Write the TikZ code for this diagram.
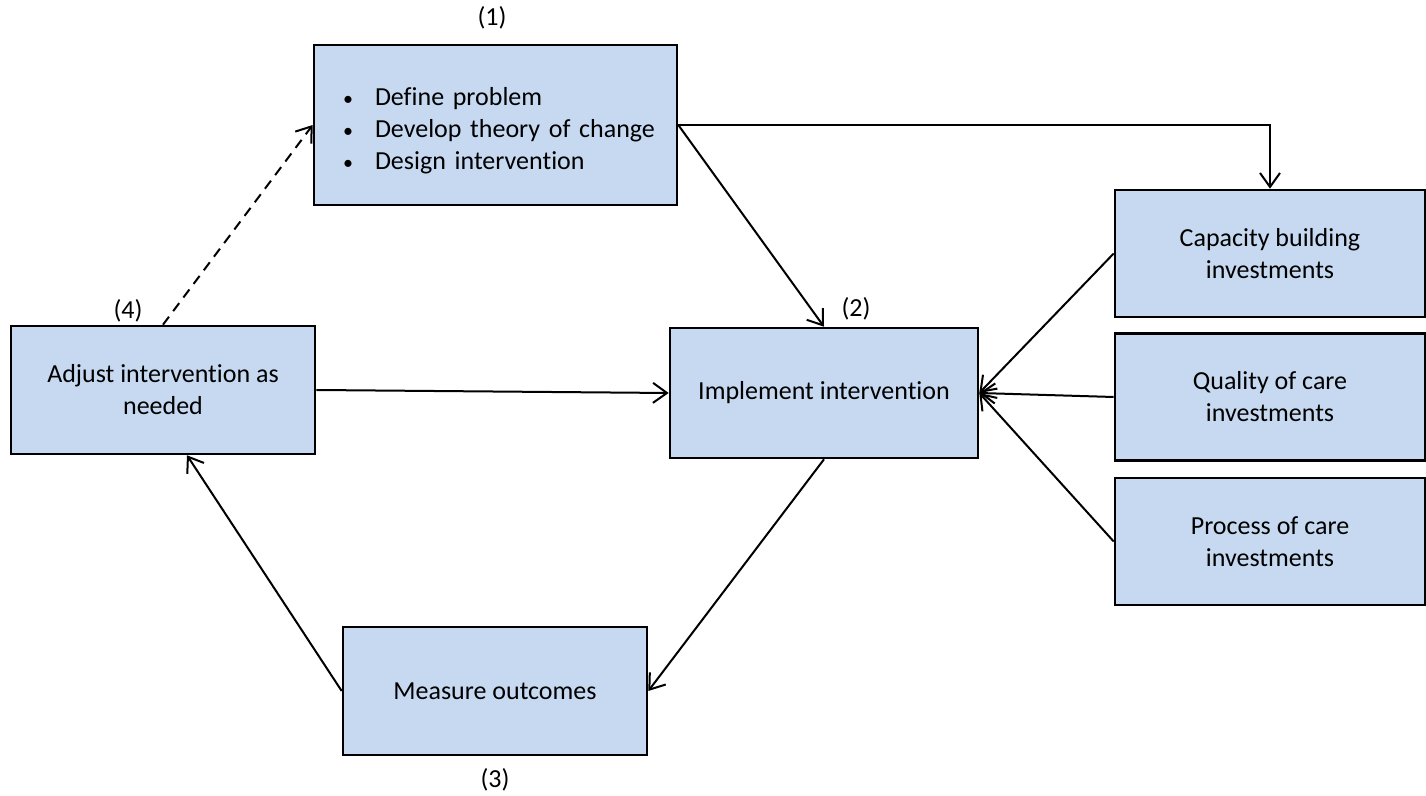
\documentclass[tikz,border=0pt]{standalone}
\usepackage{fontspec}
\setmainfont{Carlito}[Ligatures=NoCommon]
\usetikzlibrary{arrows.meta}

\begin{document}
\begin{tikzpicture}[x=0.5pt,y=-0.5pt,line width=1pt]
\definecolor{boxblue}{RGB}{198,217,241}
\providecommand{\fboxtext}{\fontsize{13}{16}\selectfont}
\providecommand{\bulletline}[1]{\makebox[152.5pt][l]{\makebox[16pt][l]{\fontsize{10}{10}\selectfont\textbullet}#1}}
\tikzset{
  stepbox/.style={draw=black,line width=1.3pt,fill=boxblue,font=\fboxtext,align=center,inner sep=0pt},
  sidebox/.style={stepbox,minimum width=155pt,minimum height=63.5pt},
  numlab/.style={inner sep=0pt,font=\fboxtext},
  conn/.style={draw=black,line width=1pt,-{Straight Barb[length=7pt,width=10pt]}},
}
\useasboundingbox (0,0) rectangle (1426,796);
% step boxes
\node[stepbox,minimum width=181.5pt,minimum height=80pt,text width=152.5pt,align=left] (define) at (495.5,125)
  {\rule{0pt}{14.5pt}\bulletline{Define problem}\\
   \bulletline{Develop theory of change}\\
   \bulletline{Design intervention}};
\node[stepbox,minimum width=154pt,minimum height=65pt] (implement) at (824,393) {Implement intervention};
\node[stepbox,minimum width=152pt,minimum height=64pt] (measure) at (495,691) {Measure outcomes};
\node[stepbox,minimum width=152pt,minimum height=64pt] (adjust) at (163,390) {Adjust intervention as\\needed};
% investments
\node[sidebox] (capacity) at (1270,253.5) {Capacity building\\investments};
\node[sidebox] (quality) at (1270,397) {Quality of care\\investments};
\node[sidebox] (process) at (1270,541.5) {Process of care\\investments};
% step numbers
\node[numlab] (lab1) at (492,18) {(1)};
\node[numlab] (lab2) at (856,309) {(2)};
\node[numlab] (lab3) at (495,780) {(3)};
\node[numlab] (lab4) at (128,311) {(4)};
% connectors
\draw[conn] (define.east) -| (capacity.north);
\draw[conn] (define.east) -- (implement.north);
\draw[conn] (implement.south) -- (measure.east);
\draw[conn] (measure.west) -- ([xshift=12pt]adjust.south);
\draw[conn] (adjust.east) -- (implement.west);
\draw[conn,dash pattern=on 5pt off 3.5pt] (adjust.north) -- (define.west);
\draw[conn] (capacity.west) -- (implement.east);
\draw[conn] (quality.west) -- (implement.east);
\draw[conn] (process.west) -- (implement.east);
\end{tikzpicture}
\end{document}
